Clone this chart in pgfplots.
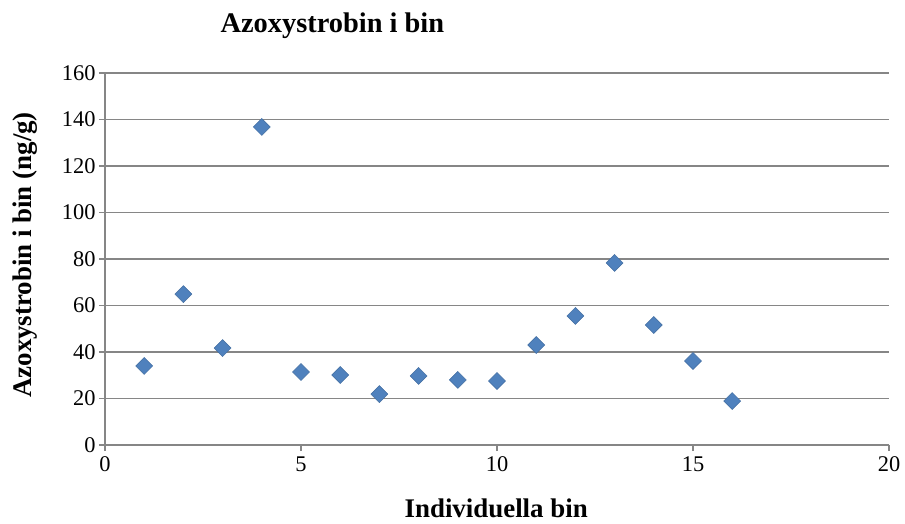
\documentclass[border=0pt]{standalone}
\usepackage{fontspec}
\setmainfont{Liberation Serif}
\usepackage{pgfplots}
\pgfplotsset{compat=1.18}
\definecolor{gridc}{HTML}{868686}
\definecolor{ser}{HTML}{4F81BD}
\begin{document}
\begin{tikzpicture}
\begin{axis}[
  scale only axis, width=784bp, height=372bp,
  xmin=0, xmax=20, ymin=0, ymax=160,
  xtick={0,5,10,15,20}, ytick={0,20,...,160},
  axis lines*=left,
  axis line style={draw=gridc, line width=1.1bp},
  ymajorgrids, grid style={draw=gridc, line width=1.1bp},
  tick align=outside, major tick length=6bp,
  tick style={draw=gridc, line width=1.1bp},
  /pgf/number format/assume math mode=true,
  ticklabel style={font=\fontsize{22.5}{22.5}\selectfont},
  xticklabel style={yshift=-2bp},
  label style={font=\fontsize{27}{27}\selectfont\bfseries},
  xlabel={Individuella bin},
  ylabel={Azoxystrobin i bin (ng/g)},
  xlabel style={at={(axis description cs:0.499,-0.17)}, anchor=center, inner sep=0pt},
  ylabel style={at={(axis description cs:-0.102,0.511)}, anchor=center},
  title={Azoxystrobin i bin},
  title style={font=\fontsize{28.5}{28.5}\selectfont\bfseries, at={(axis description cs:0.29,1)}, anchor=base, yshift=35bp},
  clip=false,
]
\addplot[only marks, mark=square*, mark size=6bp, mark options={rotate=45, fill=ser, draw=ser!85!black, line width=0.5bp}]
coordinates {
(1,34.0) (2,64.9) (3,41.7) (4,136.8) (5,31.4) (6,30.1) (7,21.9) (8,29.7)
(9,28.0) (10,27.5) (11,43.0) (12,55.5) (13,78.3) (14,51.6) (15,36.1) (16,18.9)
};
\end{axis}
\pgfresetboundingbox
\path (-105bp,-79bp) rectangle (800bp,445bp);
\end{tikzpicture}
\end{document}
